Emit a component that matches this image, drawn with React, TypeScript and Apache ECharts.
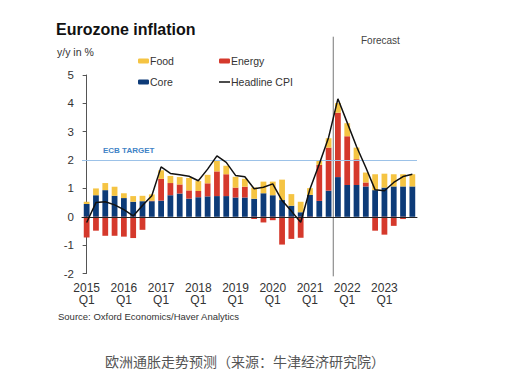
import React, { useEffect, useRef } from 'react';
import * as echarts from 'echarts';

const quarters = [
  '2015Q1', '2015Q2', '2015Q3', '2015Q4',
  '2016Q1', '2016Q2', '2016Q3', '2016Q4',
  '2017Q1', '2017Q2', '2017Q3', '2017Q4',
  '2018Q1', '2018Q2', '2018Q3', '2018Q4',
  '2019Q1', '2019Q2', '2019Q3', '2019Q4',
  '2020Q1', '2020Q2', '2020Q3', '2020Q4',
  '2021Q1', '2021Q2', '2021Q3', '2021Q4',
  '2022Q1', '2022Q2', '2022Q3', '2022Q4',
  '2023Q1', '2023Q2', '2023Q3', '2023Q4',
];

const coreValues = [
  0.45, 0.76, 0.94, 0.74, 0.66, 0.53, 0.55, 0.55,
  0.57, 0.76, 0.82, 0.64, 0.69, 0.72, 0.73, 0.73,
  0.68, 0.68, 0.64, 0.83, 0.76, 0.59, 0.39, 0.16,
  0.77, 0.56, 0.92, 1.40, 1.12, 1.12, 1.07, 0.94,
  1.03, 1.07, 1.07, 1.07,
];

const energyValues = [
  -0.73, -0.49, -0.67, -0.67, -0.70, -0.75, -0.46, 0.02,
  0.77, 0.43, 0.32, 0.29, 0.22, 0.46, 0.87, 0.77,
  0.35, 0.38, -0.08, -0.20, -0.12, -0.98, -0.78, -0.74,
  -0.03, 1.27, 1.52, 2.27, 1.72, 0.91, 0.14, -0.49,
  -0.63, -0.32, -0.08, 0.0,
];

const foodValues = [
  0.08, 0.24, 0.25, 0.32, 0.17, 0.20, 0.19, 0.22,
  0.30, 0.25, 0.26, 0.44, 0.35, 0.30, 0.38, 0.30,
  0.38, 0.28, 0.39, 0.41, 0.48, 0.72, 0.41, 0.37,
  0.24, 0.14, 0.33, 0.34, 0.46, 0.41, 0.35, 0.56,
  0.49, 0.43, 0.43, 0.43,
];

const headlineValues = [
  -0.20, 0.50, 0.53, 0.42, 0.25, 0.03, 0.40, 0.74,
  1.76, 1.53, 1.48, 1.43, 1.27, 1.68, 2.15, 1.92,
  1.46, 1.41, 0.99, 1.04, 1.16, 0.57, 0.20, -0.19,
  0.98, 1.86, 2.80, 4.16, 3.32, 2.48, 1.74, 0.95,
  0.92, 1.21, 1.42, 1.50,
];

const ecbTarget = 2;
// forecast starts between 2021Q3 (index 26) and 2021Q4 (index 27)
const forecastBoundary = 26.5;
const forecastLineSpan = [-2.1, 6.35];

const FONT = '"Liberation Sans", Arial, sans-serif';
const NAVY = '#0d3b78';
const RED = '#d5392c';
const YELLOW = '#f5c443';

export default function App() {
  const ref = useRef<HTMLDivElement>(null);

  useEffect(() => {
    if (!ref.current) return;
    const chart = echarts.init(ref.current, undefined, { renderer: 'svg' });

    const legendBase = {
      orient: 'horizontal',
      padding: 0,
      itemWidth: 11,
      itemHeight: 5,
      textStyle: { fontSize: 10.5, color: '#333', fontFamily: FONT, padding: [0, 0, 0, -4] },
      selectedMode: false,
    };

    chart.setOption({
      animation: false,
      backgroundColor: '#ffffff',
      textStyle: { fontFamily: FONT },
      grid: { left: 82, right: 115, top: 75, bottom: 104.5, containLabel: false },
      legend: [
        { ...legendBase, data: ['Food'], left: 138, top: 55.5 },
        { ...legendBase, data: ['Energy'], left: 219, top: 55.5 },
        { ...legendBase, data: ['Core'], left: 138, top: 76.5 },
        {
          ...legendBase,
          itemHeight: 1.5,
          data: [{ name: 'Headline CPI', icon: 'rect', itemStyle: { color: '#111' } }],
          left: 219,
          top: 76.5,
        },
      ],
      xAxis: [
        {
          type: 'category',
          data: quarters,
          position: 'bottom',
          axisLine: { show: false, onZero: false },
          axisTick: { show: false },
          splitLine: { show: false },
          axisLabel: {
            interval: 3,
            fontSize: 12,
            lineHeight: 12.5,
            color: '#333',
            margin: 8,
            fontFamily: FONT,
            formatter: (v: string) => v.slice(0, 4) + '\n' + v.slice(4),
          },
        },
        {
          type: 'value',
          min: -0.5,
          max: 35.5,
          position: 'bottom',
          axisLine: { show: true, onZero: true, lineStyle: { color: '#222', width: 1 } },
          axisTick: { show: false },
          axisLabel: { show: false },
          splitLine: { show: false },
          z: 5,
        },
      ],
      yAxis: {
        type: 'value',
        min: -2,
        max: 5,
        interval: 1,
        axisLine: { show: true, lineStyle: { color: '#555', width: 1 } },
        axisTick: { show: true, length: 4, lineStyle: { color: '#555' } },
        axisLabel: { fontSize: 11.5, color: '#333', margin: 8, fontFamily: FONT },
        splitLine: { show: false },
      },
      series: [
        {
          name: 'Core',
          type: 'bar',
          stack: 'cpi',
          barWidth: '62%',
          itemStyle: { color: NAVY },
          data: coreValues,
          markLine: {
            silent: true,
            symbol: ['none', 'none'],
            label: { show: false },
            lineStyle: { color: '#9cc2e8', width: 1, type: 'solid' },
            data: [{ yAxis: ecbTarget }],
          },
        },
        {
          name: 'Energy',
          type: 'bar',
          stack: 'cpi',
          barWidth: '62%',
          itemStyle: { color: RED },
          data: energyValues,
        },
        {
          name: 'Food',
          type: 'bar',
          stack: 'cpi',
          barWidth: '62%',
          itemStyle: { color: YELLOW },
          data: foodValues,
        },
        {
          name: 'Headline CPI',
          type: 'line',
          symbol: 'none',
          showSymbol: false,
          lineStyle: { color: '#111', width: 1.5 },
          itemStyle: { color: '#111' },
          data: headlineValues,
          z: 6,
        },
        {
          name: 'forecastDivider',
          type: 'line',
          xAxisIndex: 1,
          clip: false,
          silent: true,
          symbol: 'none',
          lineStyle: { color: '#777', width: 1 },
          data: [
            [forecastBoundary, forecastLineSpan[0]],
            [forecastBoundary, forecastLineSpan[1]],
          ],
          z: 1,
        },
      ],
      graphic: [
        {
          type: 'text',
          x: 56,
          y: 29,
          style: {
            text: 'Eurozone inflation',
            fontSize: 16,
            fontWeight: 'bold',
            fontFamily: FONT,
            fill: '#111',
            align: 'left',
            verticalAlign: 'middle',
          },
        },
        {
          type: 'text',
          x: 57,
          y: 52,
          style: {
            text: 'y/y in %',
            fontSize: 10.5,
            fontFamily: FONT,
            fill: '#333',
            align: 'left',
            verticalAlign: 'middle',
          },
        },
        {
          type: 'text',
          x: 103,
          y: 150,
          style: {
            text: 'ECB TARGET',
            fontSize: 8,
            fontWeight: 'bold',
            fontFamily: FONT,
            fill: '#3f83c6',
            align: 'left',
            verticalAlign: 'middle',
          },
        },
        {
          type: 'text',
          x: 361,
          y: 40,
          style: {
            text: 'Forecast',
            fontSize: 10,
            fontFamily: FONT,
            fill: '#444',
            align: 'left',
            verticalAlign: 'middle',
          },
        },
        {
          type: 'text',
          x: 58,
          y: 316.5,
          style: {
            text: 'Source: Oxford Economics/Haver Analytics',
            fontSize: 9.5,
            fontFamily: FONT,
            fill: '#333',
            align: 'left',
            verticalAlign: 'middle',
          },
        },
        {
          type: 'text',
          x: 105,
          y: 361,
          style: {
            text: '欧洲通胀走势预测（来源：牛津经济研究院）',
            fontSize: 14,
            fontFamily: '"Noto Sans CJK SC", sans-serif',
            fill: '#555',
            align: 'left',
            verticalAlign: 'middle',
          },
        },
      ],
    });

    return () => chart.dispose();
  }, []);

  return (
    <div
      ref={ref}
      style={{ position: 'fixed', left: 0, top: 0, width: 532, height: 378, background: '#fff' }}
    />
  );
}
